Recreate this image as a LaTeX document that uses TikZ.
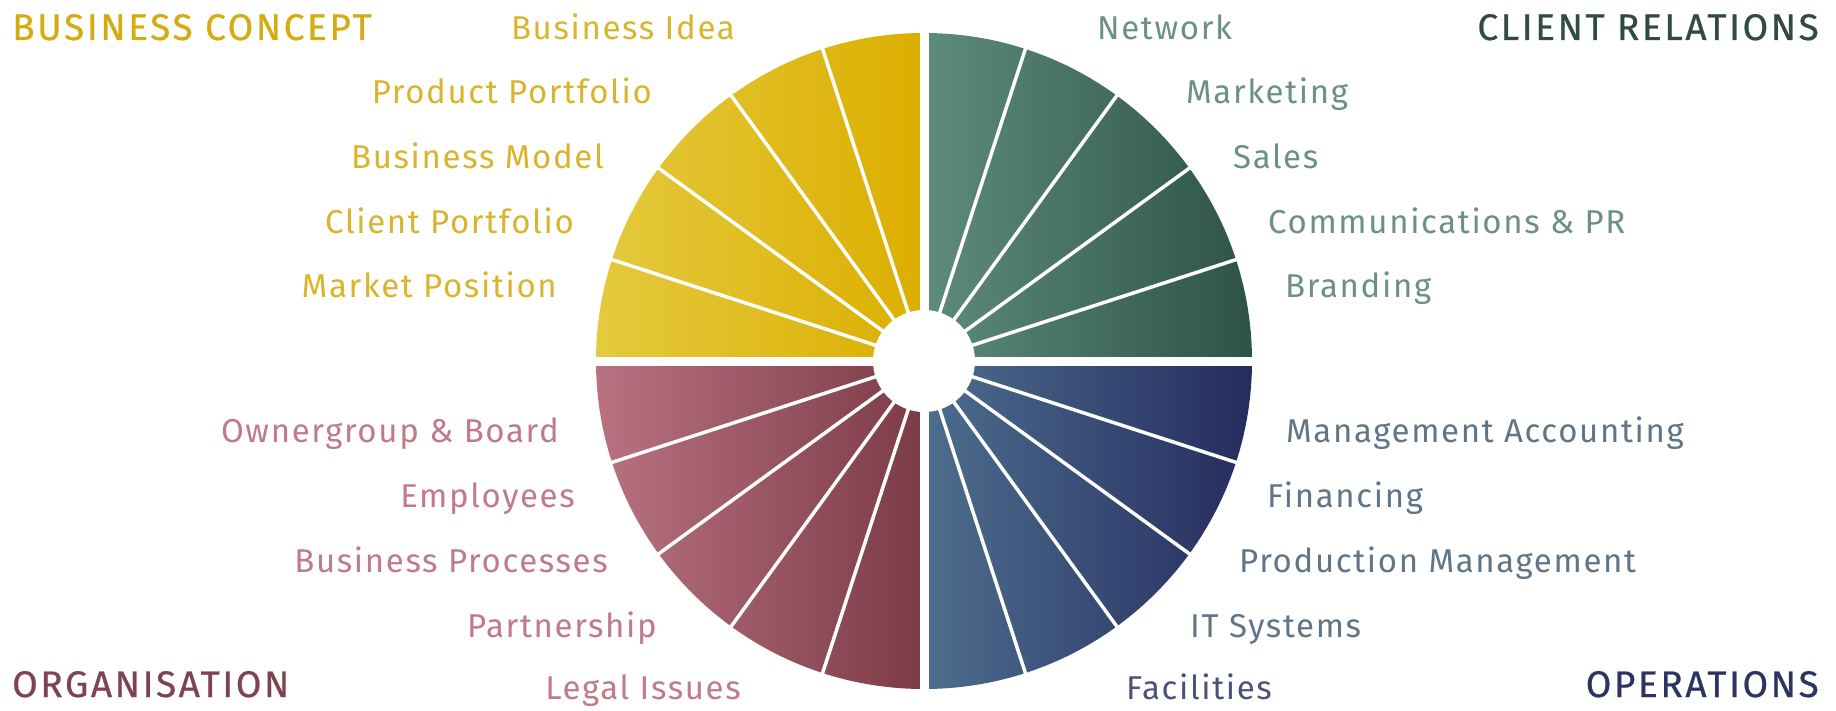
\documentclass[tikz,border=0pt]{standalone}
\usepackage{fontspec}
\setmainfont{Fira Sans}[LetterSpace=5]
\newfontfamily\headfont{Fira Sans}[LetterSpace=7, FakeBold=0.6]
\usetikzlibrary{positioning}

% quadrant colours (left/right end of each shading, then texts)
\definecolor{conceptL}{HTML}{E4CA3E}
\definecolor{conceptR}{HTML}{DCAE00}
\definecolor{conceptText}{HTML}{D9B42C}
\definecolor{conceptHead}{HTML}{D6AB12}
\definecolor{clientL}{HTML}{5E8C7A}
\definecolor{clientR}{HTML}{2D5346}
\definecolor{clientText}{HTML}{6B9183}
\definecolor{clientHead}{HTML}{2F4B43}
\definecolor{opsL}{HTML}{4D6E8E}
\definecolor{opsR}{HTML}{252C5E}
\definecolor{opsText}{HTML}{617588}
\definecolor{opsHead}{HTML}{2C3461}
\definecolor{orgL}{HTML}{B97281}
\definecolor{orgR}{HTML}{7B3B46}
\definecolor{orgText}{HTML}{C07A8A}
\definecolor{orgHead}{HTML}{7D4350}

\begin{document}
\begin{tikzpicture}[
    x=1pt, y=1pt,
    every node/.style={inner sep=0pt, font=\fontsize{33}{40}\selectfont},
    heading/.style={font=\headfont\fontsize{37}{44}\selectfont},
    conceptitem/.style={text=conceptText, anchor=base east},
    clientitem/.style={text=clientText, anchor=base west},
    opsitem/.style={text=opsText, anchor=base west},
    orgitem/.style={text=orgText, anchor=base east},
    slicegap/.style={draw=white, line width=3.5pt},
    crossgap/.style={draw=white, line width=9pt}
]

\useasboundingbox (-924,-349) rectangle (912,361);

% Four quadrants of the wheel
\shade[left color=conceptL, right color=conceptR] (0,0) -- (-328,0) arc[start angle=180, end angle=90, radius=328pt] -- cycle;
\shade[left color=clientL, right color=clientR] (0,0) -- (0,328) arc[start angle=90, end angle=0, radius=328pt] -- cycle;
\shade[left color=opsL, right color=opsR] (0,0) -- (328,0) arc[start angle=0, end angle=-90, radius=328pt] -- cycle;
\shade[left color=orgL, right color=orgR] (0,0) -- (0,-328) arc[start angle=270, end angle=180, radius=328pt] -- cycle;

% Slice borders (18 degrees each)
\draw[slicegap] (0,0) -- (18:335) (0,0) -- (36:335) (0,0) -- (54:335) (0,0) -- (72:335)
    (0,0) -- (108:335) (0,0) -- (126:335) (0,0) -- (144:335) (0,0) -- (162:335)
    (0,0) -- (198:335) (0,0) -- (216:335) (0,0) -- (234:335) (0,0) -- (252:335)
    (0,0) -- (288:335) (0,0) -- (306:335) (0,0) -- (324:335) (0,0) -- (342:335);

% Gaps between quadrants and the hub
\draw[crossgap] (-335,0) -- (335,0) (0,-335) -- (0,335);
\fill[white] (0,0) circle[radius=51pt];

% Business concept
\node[heading, text=conceptHead, anchor=base west] (conceptHd) at (-912,321) {BUSINESS CONCEPT};
\node[conceptitem] (idea) at (-189,321) {Business Idea};
\node[conceptitem] (product) at (-272,257) {Product Portfolio};
\node[conceptitem] (model) at (-320,193) {Business Model};
\node[conceptitem] (clients) at (-350,128) {Client Portfolio};
\node[conceptitem] (market) at (-367,64) {Market Position};

% Client relations
\node[heading, text=clientHead, anchor=base east] (clientHd) at (895,321) {CLIENT RELATIONS};
\node[clientitem] (network) at (173,321) {Network};
\node[clientitem] (marketing) at (262,257) {Marketing};
\node[clientitem] (sales) at (309,193) {Sales};
\node[clientitem] (comms) at (344,128) {Communications \& PR};
\node[clientitem] (branding) at (361,64) {Branding};

% Operations
\node[heading, text=opsHead, anchor=base east] (opsHd) at (895,-336) {OPERATIONS};
\node[opsitem] (accounting) at (362,-81) {Management Accounting};
\node[opsitem] (financing) at (343,-146) {Financing};
\node[opsitem] (production) at (315,-211) {Production Management};
\node[opsitem] (itsys) at (266,-276) {IT Systems};
\node[opsitem, text=opsHead!85!white] (facilities) at (202,-338) {Facilities};

% Organisation
\node[heading, text=orgHead, anchor=base west] (orgHd) at (-912,-336) {ORGANISATION};
\node[orgitem] (board) at (-365,-81) {Ownergroup \& Board};
\node[orgitem] (employees) at (-349,-146) {Employees};
\node[orgitem] (processes) at (-316,-211) {Business Processes};
\node[orgitem] (partnership) at (-267,-276) {Partnership};
\node[orgitem] (legal) at (-183,-338) {Legal Issues};

\end{tikzpicture}
\end{document}
